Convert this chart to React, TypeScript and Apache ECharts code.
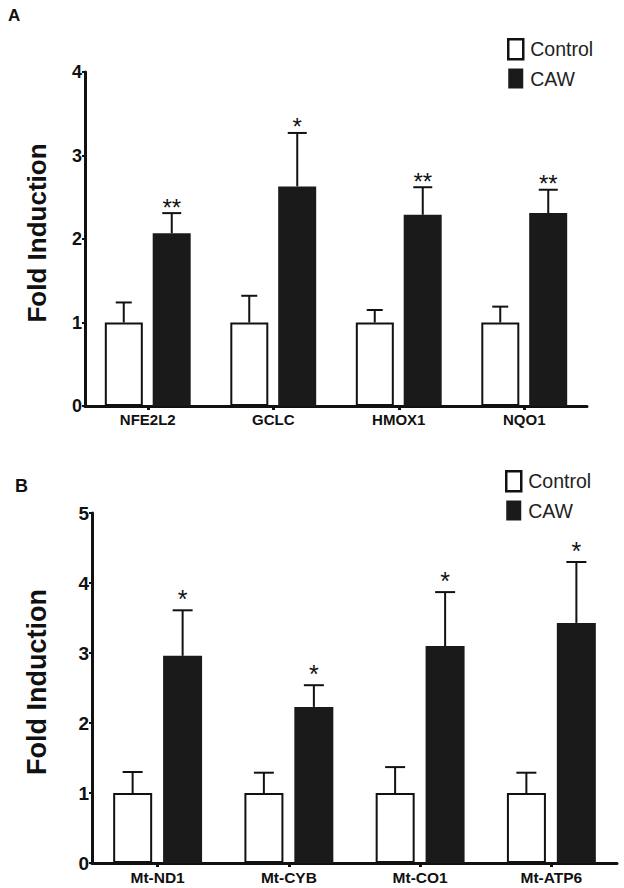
import React, { useEffect, useRef } from 'react';
import * as echarts from 'echarts';

// Panel A
const categoriesA = ['NFE2L2', 'GCLC', 'HMOX1', 'NQO1'];
const controlA = [1, 1, 1, 1];
const controlErrA = [0.24, 0.32, 0.15, 0.19];
const cawA = [2.07, 2.63, 2.29, 2.31];
const cawErrA = [0.24, 0.64, 0.33, 0.28];
const sigA = ['**', '*', '**', '**'];

// Panel B
const categoriesB = ['Mt-ND1', 'Mt-CYB', 'Mt-CO1', 'Mt-ATP6'];
const controlB = [1, 1, 1, 1];
const controlErrB = [0.3, 0.29, 0.37, 0.29];
const cawB = [2.96, 2.23, 3.1, 3.43];
const cawErrB = [0.65, 0.31, 0.77, 0.87];
const sigB = ['*', '*', '*', '*'];

const seriesNames = ['Control', 'CAW'];
const yMaxA = 4;
const yMaxB = 5;
const yTitle = 'Fold Induction';

const FONT = 'Arial, "Liberation Sans", Helvetica, sans-serif';
const INK = '#111';

function errData(means: number[], errs: number[]) {
  return means.map((m, i) => [i, m, m + errs[i]]);
}

function makeErr(offset: number, capW: number, sigs: string[] | null, sigGap: number, sigSize: number) {
  return (params: any, api: any) => {
    const i = api.value(0);
    const mean = api.value(1);
    const top = api.value(2);
    const base = api.coord([i, mean]);
    const tip = api.coord([i, top]);
    const x = base[0] + offset;
    const children: any[] = [
      { type: 'line', shape: { x1: x, y1: base[1], x2: x, y2: tip[1] }, style: { stroke: INK, lineWidth: 2 } },
      { type: 'line', shape: { x1: x - capW / 2, y1: tip[1], x2: x + capW / 2, y2: tip[1] }, style: { stroke: INK, lineWidth: 2 } },
    ];
    if (sigs && sigs[params.dataIndex]) {
      children.push({
        type: 'text',
        style: {
          text: sigs[params.dataIndex],
          x,
          y: tip[1] - sigGap,
          align: 'center',
          verticalAlign: 'middle',
          fontSize: sigSize,
          fontFamily: FONT,
          fill: INK,
        },
      });
    }
    return { type: 'group', children };
  };
}

function legendFor(left: number, top: number) {
  return {
    orient: 'vertical',
    left,
    top,
    padding: 0,
    itemWidth: 15,
    itemHeight: 20,
    itemGap: 8,
    selectedMode: false,
    icon: 'rect',
    textStyle: { fontSize: 19.5, color: '#222', fontFamily: FONT, padding: [0, 0, 0, 2] },
    data: [
      { name: seriesNames[0], itemStyle: { color: '#fff', borderColor: INK, borderWidth: 2.5 } },
      { name: seriesNames[1], itemStyle: { color: '#1a1a1a', borderWidth: 0 } },
    ],
  };
}

export default function App() {
  const ref = useRef<HTMLDivElement>(null);
  useEffect(() => {
    if (!ref.current) return;
    const chart = echarts.init(ref.current, undefined, { renderer: 'svg' });
    const axisLine = { show: true, lineStyle: { color: INK, width: 3 } };
    const option: any = {
      animation: false,
      backgroundColor: '#fff',
      graphic: [
        { type: 'text', left: 8, top: 7, style: { text: 'A', fontSize: 17, fontWeight: 'bold', fontFamily: FONT, fill: INK } },
        { type: 'text', left: 15, top: 477, style: { text: 'B', fontSize: 18, fontWeight: 'bold', fontFamily: FONT, fill: INK } },
      ],
      legend: [legendFor(507, 38), legendFor(505, 470)],
      grid: [
        { left: 85, top: 72, width: 502, height: 334 },
        { left: 92, top: 513, width: 525, height: 350 },
      ],
      xAxis: [0, 1].map((g) => ({
        type: 'category',
        gridIndex: g,
        data: g === 0 ? categoriesA : categoriesB,
        axisLine,
        axisTick: { show: true, alignWithLabel: true, length: 4, lineStyle: { color: INK, width: 3 } },
        axisLabel: { color: INK, fontWeight: 'bold', fontSize: g === 0 ? 15 : 15.5, fontFamily: FONT, margin: 6 },
        splitLine: { show: false },
      })),
      yAxis: [0, 1].map((g) => ({
        type: 'value',
        gridIndex: g,
        min: 0,
        max: g === 0 ? yMaxA : yMaxB,
        interval: 1,
        name: yTitle,
        nameLocation: 'middle',
        nameRotate: 90,
        nameGap: g === 0 ? 35 : 42,
        nameTextStyle: {
          fontSize: g === 0 ? 26 : 27,
          fontWeight: 'bold',
          fontFamily: FONT,
          color: INK,
          padding: [0, 0, 0, 12],
        },
        axisLine,
        axisTick: { show: true, length: 3, lineStyle: { color: INK, width: 2 } },
        axisLabel: { color: INK, fontWeight: 'bold', fontSize: g === 0 ? 18 : 19, fontFamily: FONT, margin: 3 },
        splitLine: { show: false },
      })),
      series: [
        {
          name: seriesNames[0], type: 'bar', xAxisIndex: 0, yAxisIndex: 0, data: controlA,
          barWidth: 38, barGap: '26%',
          itemStyle: { color: '#fff', borderColor: INK, borderWidth: 2 },
        },
        {
          name: seriesNames[1], type: 'bar', xAxisIndex: 0, yAxisIndex: 0, data: cawA,
          barWidth: 38, barGap: '26%',
          itemStyle: { color: '#1a1a1a' },
        },
        {
          name: seriesNames[0], type: 'bar', xAxisIndex: 1, yAxisIndex: 1, data: controlB,
          barWidth: 39, barGap: '28%',
          itemStyle: { color: '#fff', borderColor: INK, borderWidth: 2 },
        },
        {
          name: seriesNames[1], type: 'bar', xAxisIndex: 1, yAxisIndex: 1, data: cawB,
          barWidth: 39, barGap: '28%',
          itemStyle: { color: '#1a1a1a' },
        },
        {
          type: 'custom', xAxisIndex: 0, yAxisIndex: 0, z: 3, clip: false,
          data: errData(controlA, controlErrA), renderItem: makeErr(-24, 16, null, 0, 24),
        },
        {
          type: 'custom', xAxisIndex: 0, yAxisIndex: 0, z: 3, clip: false,
          data: errData(cawA, cawErrA), renderItem: makeErr(24, 19, sigA, 6, 24),
        },
        {
          type: 'custom', xAxisIndex: 1, yAxisIndex: 1, z: 3, clip: false,
          data: errData(controlB, controlErrB), renderItem: makeErr(-25, 20, null, 0, 24),
        },
        {
          type: 'custom', xAxisIndex: 1, yAxisIndex: 1, z: 3, clip: false,
          data: errData(cawB, cawErrB), renderItem: makeErr(25, 20, sigB, 11, 25),
        },
      ],
    };
    chart.setOption(option);
    return () => chart.dispose();
  }, []);
  return (
    <div
      ref={ref}
      style={{ position: 'fixed', left: 0, top: 0, width: 624, height: 888, background: '#fff' }}
    />
  );
}
